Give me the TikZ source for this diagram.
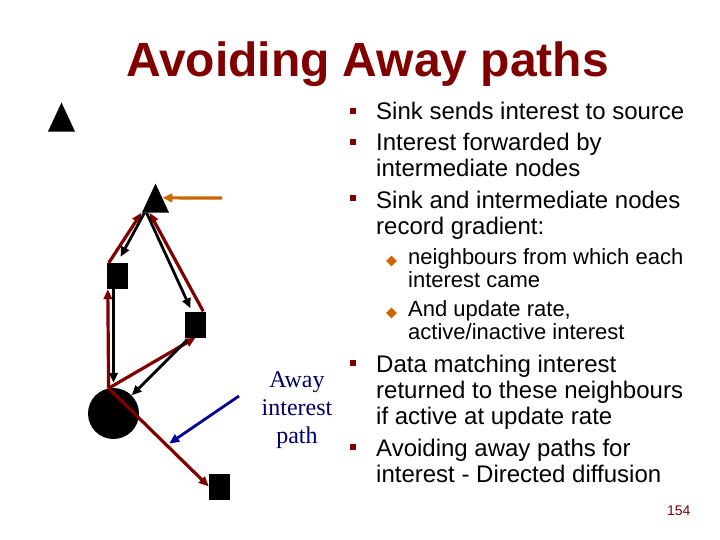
\documentclass[tikz,border=0pt]{standalone}
\usepackage{fontspec}
\setmainfont{Liberation Sans}
\newfontfamily\awayfont{Liberation Serif}
\usepackage{xcolor}
\usetikzlibrary{arrows.meta}
\usetikzlibrary{shapes.geometric}
\definecolor{slidered}{HTML}{800000}
\definecolor{slideorange}{HTML}{CC6600}
\definecolor{slideblue}{HTML}{000099}
\definecolor{awaynavy}{HTML}{000066}

\begin{document}
\begin{tikzpicture}[x=1pt,y=-1pt,
    sensor/.style={rectangle,fill=black,minimum width=21pt,minimum height=26pt,inner sep=0pt},
    srcnode/.style={isosceles triangle,isosceles triangle stretches,shape border rotate=90,
                    fill=black,minimum width=27pt,minimum height=29pt,inner sep=0pt},
    sqbullet/.style={rectangle,fill=slidered,minimum size=6pt,inner sep=0pt},
    dmbullet/.style={diamond,fill=slideorange,minimum size=11pt,inner sep=0pt}]
\fill[white] (0,0) rectangle (720,540);
\useasboundingbox (0,0) rectangle (720,540);

\node[text=slidered,font=\fontsize{48}{52}\selectfont\bfseries,anchor=base] (title) at (367.5,77) {Avoiding Away paths};

% text on the right (anchored on the last line)
\begin{scope}[every node/.style={anchor=base west,align=left,inner sep=0pt,font=\fontsize{24}{26}\selectfont}]
    \node (b1) at (376,120) {Sink sends interest to source};
    \node (b2) at (376,177) {Interest forwarded by\\intermediate nodes};
    \node (b3) at (376,234) {Sink and intermediate nodes\\record gradient:};
    \node (b4) at (376,424) {Data matching interest\\returned to these neighbours\\if active at update rate};
    \node (b5) at (376,482) {Avoiding away paths for\\interest - Directed diffusion};
\end{scope}
\begin{scope}[every node/.style={anchor=base west,align=left,inner sep=0pt,font=\fontsize{22}{23}\selectfont}]
    \node (s1) at (408,287.5) {neighbours from which each\\interest came};
    \node (s2) at (408,339) {And update rate,\\active/inactive interest};
\end{scope}
\foreach \y [count=\i] in {111,142,198,363,447}
    \node[sqbullet] (m\i) at (353,\y) {};
\node[dmbullet] (d1) at (391.5,261) {};
\node[dmbullet] (d2) at (391.5,313) {};

\node[font=\awayfont\fontsize{24}{28}\selectfont,text=awaynavy,align=center,anchor=base] (awaylbl) at (297,443) {Away\\interest\\path};
\node[font=\fontsize{14}{16}\selectfont,text=slidered,anchor=base east] (pgno) at (694,515) {154};

% the network
\node[srcnode,anchor=apex] (srcicon) at (61.5,102) {};
\node[srcnode,anchor=apex] (src) at (155.5,183) {};
\node[sensor] (sq1) at (117.5,276) {};
\node[sensor] (sq2) at (195.5,324.5) {};
\node[sensor] (sq3) at (219.5,486.5) {};
\node[circle,fill=black,minimum size=51pt,inner sep=0pt] (sink) at (113.5,413.5) {};
\coordinate (orgtail) at (222,198);
\coordinate (bluetail) at (239,396);

\begin{scope}[>={Triangle[length=10pt,width=8.5pt]},
              every edge/.style={draw=slidered,line width=3.2pt}]
    \path [->] (sink.101) edge ([xshift=1pt]sq1.south west);
    \path [->] ([xshift=2pt]sq1.north west) edge ([xshift=-14pt]src.lower side);
    \path [->] ([xshift=-3pt]sq2.north east) edge ([xshift=-6pt]src.lower side);
    \path [->] (sink.101) edge (sq2.south);
    \path [->] (sink.101) edge coordinate[pos=0.58] (awaypt) (sq3.west);
\end{scope}

\begin{scope}[>={Triangle[length=10pt,width=8.5pt]},
              every edge/.style={draw=black,line width=2.8pt}]
    \path [->] ([xshift=-11pt]src.lower side) edge ([shift={(3pt,6pt)}]sq1.north);
    \path [->] ([xshift=-9pt]src.lower side) edge ([shift={(-5pt,3pt)}]sq2.north);
    \path [->] ([xshift=-4pt]sq1.south) edge ([yshift=5pt]sink.north);
    \path [->] ([shift={(-9pt,-3pt)}]sq2.south) edge (sink.45);
    \path [->] (orgtail) edge[draw=slideorange,line width=3.2pt] (src.right side);
    \path [->] (bluetail) edge[draw=slideblue,shorten >=3pt] (awaypt);
\end{scope}

\end{tikzpicture}
\end{document}
